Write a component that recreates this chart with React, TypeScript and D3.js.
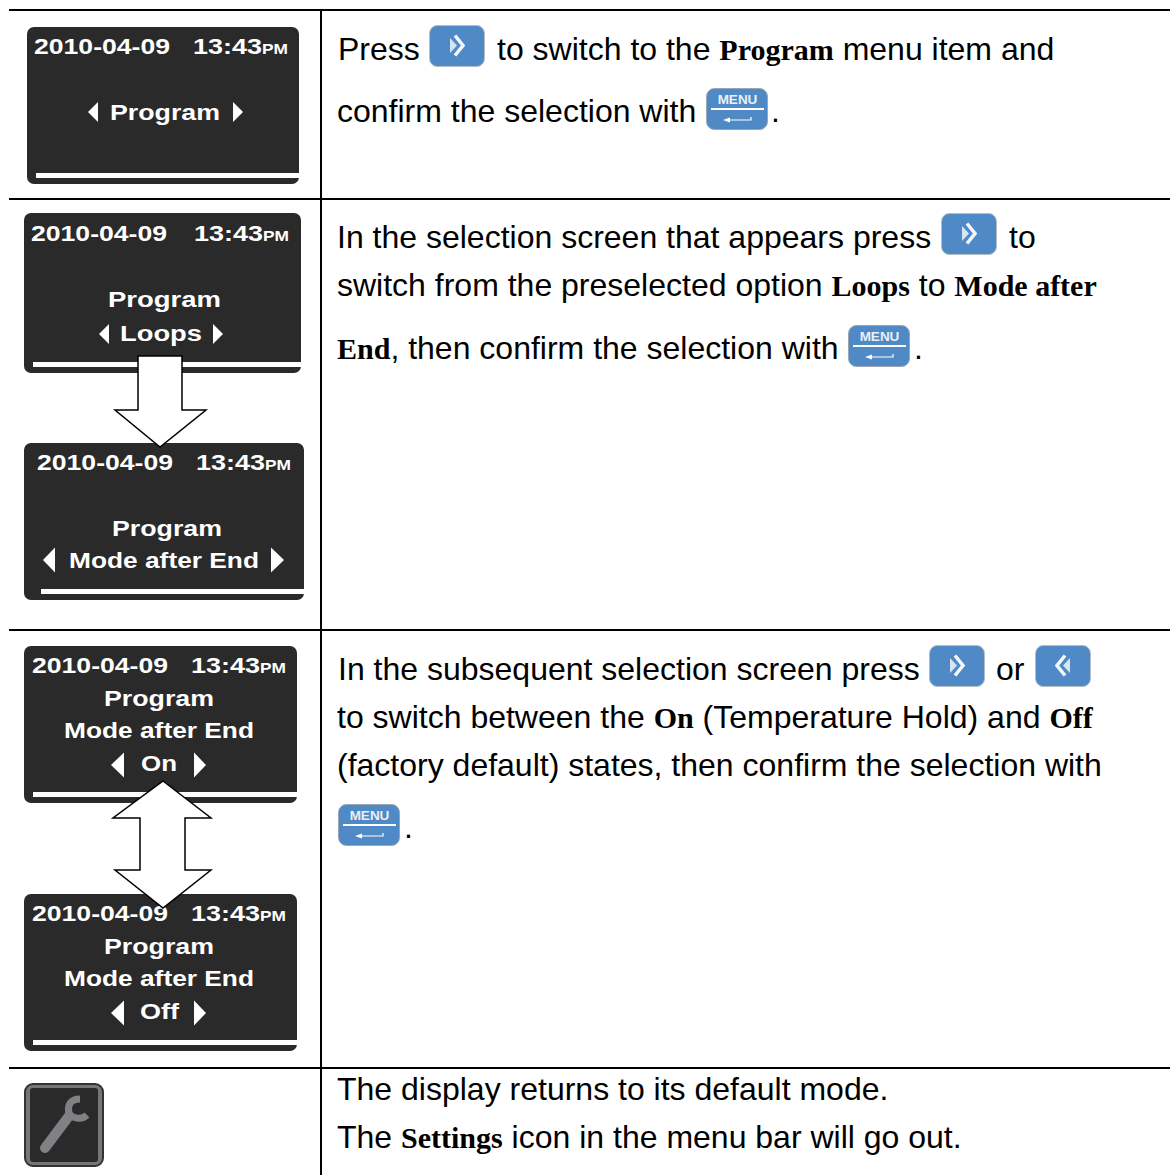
import * as d3 from "d3"

const DATE_TEXT = "2010-04-09"
const TIME_TEXT = "13:43"
const MERIDIEM = "PM"

// screen captions, one list per display shown in the left column
const screenTitles = [
  ["Program"],
  ["Program", "Loops"],
  ["Program", "Mode after End"],
  ["Program", "Mode after End", "On"],
  ["Program", "Mode after End", "Off"],
]

// [x0, x1, baseline] of each caption, same order as screenTitles
const screenCaptionBoxes = [
  [[110, 220, 120]],
  [[108, 221, 307], [120, 202, 341]],
  [[112, 222, 536], [69, 259, 568]],
  [[104, 214, 706], [64, 254, 738], [141, 177, 771]],
  [[104, 214, 954], [64, 254, 986], [140, 179, 1019]],
]

const screenBoxes = [
  { x0: 27, x1: 299, y0: 27, y1: 184, dateX: 34, timeX: 193, base: 54, bar: 36, barY: 173, arrows: [88, 98, 233, 243, 112, 10] },
  { x0: 24, x1: 301, y0: 213, y1: 373, dateX: 31, timeX: 194, base: 241, bar: 33, barY: 362, arrows: [99, 109, 213, 223, 334, 10] },
  { x0: 24, x1: 304, y0: 443, y1: 600, dateX: 37, timeX: 196, base: 470, bar: 41, barY: 589, arrows: [43, 55, 271, 284, 560, 12.5] },
  { x0: 24, x1: 297, y0: 646, y1: 803, dateX: 32, timeX: 191, base: 673, bar: 33, barY: 792, arrows: [111, 124, 194, 206, 765, 12.5] },
  { x0: 24, x1: 297, y0: 894, y1: 1051, dateX: 32, timeX: 191, base: 921, bar: 33, barY: 1040, arrows: [111, 124, 194, 206, 1013, 12.5] },
]

const rowLines = [10, 199, 630, 1068]

type Run = { t: string; b?: boolean }

// instruction text, each entry is one line: x, baseline, runs
const textLines: { x: number; y: number; runs: Run[] }[] = [
  { x: 338, y: 60, runs: [{ t: "Press" }] },
  { x: 497, y: 60, runs: [{ t: "to switch to the " }, { t: "Program", b: true }, { t: " menu item and" }] },
  { x: 337, y: 122, runs: [{ t: "confirm the selection with" }] },
  { x: 771, y: 122, runs: [{ t: "." }] },
  { x: 337, y: 248, runs: [{ t: "In the selection screen that appears press" }] },
  { x: 1009, y: 248, runs: [{ t: "to" }] },
  { x: 337, y: 296, runs: [{ t: "switch from the preselected option " }, { t: "Loops", b: true }, { t: " to " }, { t: "Mode after", b: true }] },
  { x: 337, y: 359, runs: [{ t: "End", b: true }, { t: ", then confirm the selection with" }] },
  { x: 914, y: 359, runs: [{ t: "." }] },
  { x: 338, y: 680, runs: [{ t: "In the subsequent selection screen press" }] },
  { x: 996, y: 680, runs: [{ t: "or" }] },
  { x: 337, y: 728, runs: [{ t: "to switch between the " }, { t: "On", b: true }, { t: " (Temperature Hold) and " }, { t: "Off", b: true }] },
  { x: 337, y: 776, runs: [{ t: "(factory default) states, then confirm the selection with" }] },
  { x: 404, y: 838, runs: [{ t: "." }] },
  { x: 337, y: 1100, runs: [{ t: "The display returns to its default mode." }] },
  { x: 337, y: 1148, runs: [{ t: "The " }, { t: "Settings", b: true }, { t: " icon in the menu bar will go out." }] },
]

const nextButtons = [[429, 25], [941, 213], [929, 645]]
const prevButtons = [[1035, 645]]
const menuButtons = [[706, 88], [848, 325], [338, 804]]

const downArrow: [number, number][] = [
  [138, 356], [182, 356], [182, 410], [206, 410], [160, 447], [115, 410], [138, 410],
]
const bothArrow: [number, number][] = [
  [163, 781], [211, 818], [185, 818], [185, 870], [211, 870], [163, 908], [115, 870], [140, 870], [140, 818], [113, 818],
]

const SANS = "'Liberation Sans', Arial, sans-serif"
const SERIF = "'Liberation Serif', serif"
const SCREEN = "#2a2a2a"
const BLUE = "#4f8ac6"

const poly = d3.line().curve(d3.curveLinearClosed)

function triangle(tipX: number, baseX: number, cy: number, half: number) {
  const p = d3.path()
  p.moveTo(baseX, cy - half)
  p.lineTo(tipX, cy)
  p.lineTo(baseX, cy + half)
  p.closePath()
  return p.toString()
}

function Screen({ box, titles, captions }: { box: (typeof screenBoxes)[number]; titles: string[]; captions: number[][] }) {
  const [la, lb, ra, rb, cy, half] = box.arrows
  const w = box.x1 - box.x0
  const h = box.y1 - box.y0
  return (
    <g>
      <rect x={box.x0} y={box.y0} width={w} height={h} rx={7} fill={SCREEN} />
      <rect x={box.bar} y={box.barY} width={box.x1 - box.bar} height={5} fill="#fff" />
      <g fill="#fff" fontFamily={SANS} fontWeight="bold" fontSize={22}>
        <text x={box.dateX} y={box.base} textLength={136} lengthAdjust="spacingAndGlyphs">{DATE_TEXT}</text>
        <text x={box.timeX} y={box.base} textLength={69} lengthAdjust="spacingAndGlyphs">{TIME_TEXT}</text>
        <text x={box.timeX + 69} y={box.base} fontSize={15} textLength={26} lengthAdjust="spacingAndGlyphs">{MERIDIEM}</text>
        {titles.map((t, i) => (
          <text key={i} x={captions[i][0]} y={captions[i][2]} textLength={captions[i][1] - captions[i][0]} lengthAdjust="spacingAndGlyphs">{t}</text>
        ))}
        <path d={triangle(la, lb, cy, half)} />
        <path d={triangle(rb, ra, cy, half)} />
      </g>
    </g>
  )
}

function StepButton({ x, y, flip }: { x: number; y: number; flip?: boolean }) {
  const tri = d3.path()
  tri.moveTo(21, 13)
  tri.lineTo(28, 20.5)
  tri.lineTo(21, 28)
  tri.closePath()
  const chev = d3.path()
  chev.moveTo(26, 10.5)
  chev.lineTo(34, 20.5)
  chev.lineTo(26, 30.5)
  return (
    <g transform={`translate(${x},${y})`}>
      <rect x={0.5} y={0.5} width={55} height={41} rx={8} fill={BLUE} stroke="#b4bcc6" />
      <g transform={flip ? "translate(56,0) scale(-1,1)" : undefined}>
        <path d={tri.toString()} fill="#d6e4f3" />
        <path d={chev.toString()} fill="none" stroke="#f4f8fc" strokeWidth={3.5} />
      </g>
    </g>
  )
}

function MenuButton({ x, y }: { x: number; y: number }) {
  const head = d3.path()
  head.moveTo(24, 29.5)
  head.lineTo(17, 32)
  head.lineTo(24, 34.5)
  head.closePath()
  const stem = d3.path()
  stem.moveTo(20, 32)
  stem.lineTo(45, 32)
  stem.lineTo(45, 29)
  return (
    <g transform={`translate(${x},${y})`}>
      <rect x={0.5} y={0.5} width={61} height={41} rx={8} fill={BLUE} stroke="#9aa6b4" />
      <text x={31.5} y={16} textAnchor="middle" fill="#e8f0f8" fontFamily={SANS} fontWeight="bold" fontSize={13.5}>MENU</text>
      <rect x={5} y={20} width={53} height={2} fill="#fff" />
      <path d={head.toString()} fill="#fff" />
      <path d={stem.toString()} fill="none" stroke="#fff" strokeWidth={1.2} />
    </g>
  )
}

function SettingsIcon() {
  const jaw = d3.path()
  jaw.moveTo(80, 1099)
  jaw.bezierCurveTo(70, 1099, 67, 1106, 69, 1113)
  jaw.bezierCurveTo(72, 1119, 82, 1120, 87, 1115)
  return (
    <g>
      <rect x={25} y={1084} width={78} height={82} rx={8} fill="#747679" stroke="#333" strokeWidth={2} />
      <rect x={30} y={1088} width={68} height={74} rx={3} fill={SCREEN} />
      <path d="M45 1148 L69 1116" stroke="#7f8184" strokeWidth={10} strokeLinecap="round" fill="none" />
      <path d={jaw.toString()} stroke="#7f8184" strokeWidth={7} fill="none" />
    </g>
  )
}

export default function App() {
  return (
    <svg width={1175} height={1175} viewBox="0 0 1175 1175" style={{ position: "absolute", top: 0, left: 0, background: "#fff" }}>
      {rowLines.map((y) => (
        <line key={y} x1={9} x2={1170} y1={y} y2={y} stroke="#000" strokeWidth={2} />
      ))}
      <line x1={321} x2={321} y1={10} y2={1175} stroke="#000" strokeWidth={2} />

      {screenBoxes.map((box, i) => (
        <Screen key={i} box={box} titles={screenTitles[i]} captions={screenCaptionBoxes[i]} />
      ))}
      <path d={poly(downArrow) ?? ""} fill="#fff" stroke="#000" strokeWidth={1.5} />
      <path d={poly(bothArrow) ?? ""} fill="#fff" stroke="#000" strokeWidth={1.5} />

      {textLines.map((l, i) => (
        <text key={i} x={l.x} y={l.y} fontFamily={SANS} fontSize={32} fill="#000" style={{ whiteSpace: "pre" }}>
          {l.runs.map((r, j) => (
            <tspan key={j} fontFamily={r.b ? SERIF : SANS} fontSize={r.b ? 30 : 32} fontWeight={r.b ? "bold" : "normal"}>{r.t}</tspan>
          ))}
        </text>
      ))}

      {nextButtons.map(([x, y], i) => <StepButton key={i} x={x} y={y} />)}
      {prevButtons.map(([x, y], i) => <StepButton key={i} x={x} y={y} flip />)}
      {menuButtons.map(([x, y], i) => <MenuButton key={i} x={x} y={y} />)}
      <SettingsIcon />
    </svg>
  )
}
